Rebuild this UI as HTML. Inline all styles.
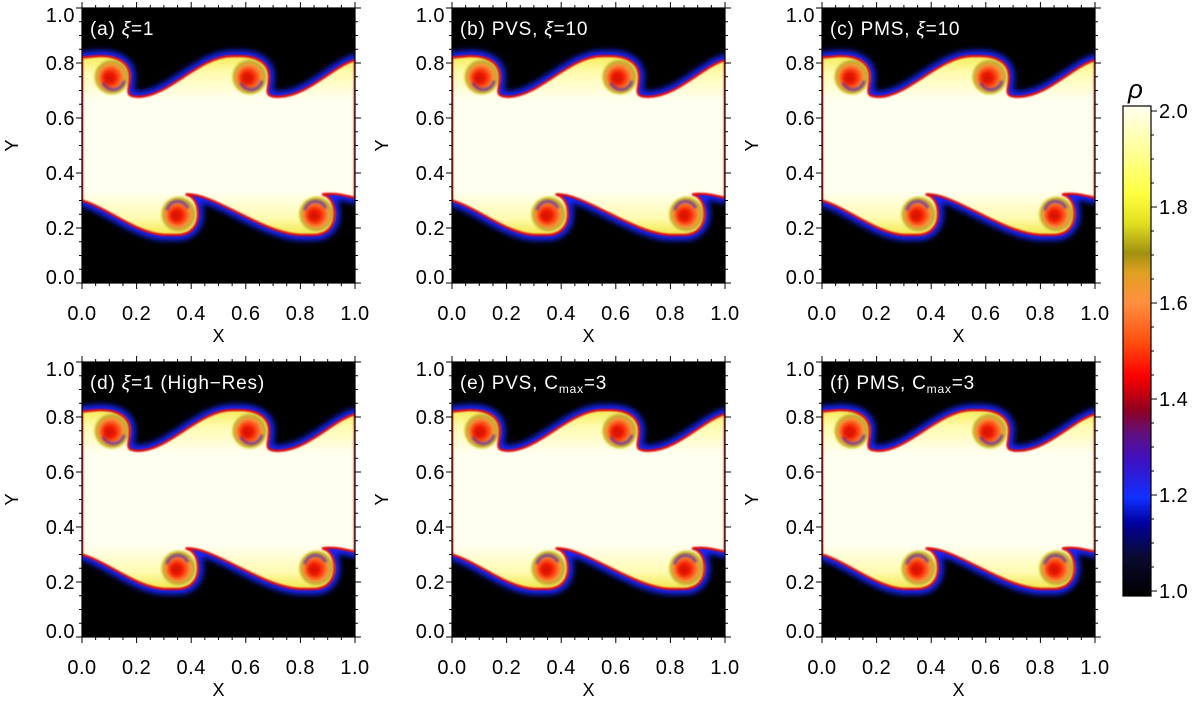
<!DOCTYPE html>
<html><head><meta charset="utf-8">
<style>
html,body{margin:0;padding:0;background:#fff;}
#root{position:relative;width:1200px;height:706px;overflow:hidden;font-family:"Liberation Sans",sans-serif;}
svg text{font-family:"Liberation Sans","DejaVu Sans",sans-serif;}
</style></head>
<body>
<div id="root">
<svg id="fig" width="1200" height="706" viewBox="0 0 1200 706">
<defs>
<filter id="glow" x="-20%" y="-20%" width="140%" height="140%"><feGaussianBlur stdDeviation="3"/></filter>
<filter id="soft" x="-20%" y="-20%" width="140%" height="140%"><feGaussianBlur stdDeviation="0.7"/></filter>
<filter id="vblur" x="-50%" y="-50%" width="200%" height="200%"><feGaussianBlur stdDeviation="1"/></filter>
<radialGradient id="vort" cx="0.5" cy="0.5" r="0.5" fx="0.4" fy="0.55">
<stop offset="0" stop-color="#c81000"/>
<stop offset="0.3" stop-color="#f01800"/>
<stop offset="0.55" stop-color="#ff6020"/>
<stop offset="0.72" stop-color="#f0a040"/>
<stop offset="0.86" stop-color="#b8a828"/>
<stop offset="1" stop-color="#f4ec60"/>
</radialGradient>
<linearGradient id="cbar" x1="0" y1="1" x2="0" y2="0">
<stop offset="0" stop-color="#000000"/>
<stop offset="0.08" stop-color="#0a0a30"/>
<stop offset="0.15" stop-color="#0000a0"/>
<stop offset="0.2" stop-color="#1030ff"/>
<stop offset="0.28" stop-color="#4010c0"/>
<stop offset="0.33" stop-color="#601080"/>
<stop offset="0.38" stop-color="#900020"/>
<stop offset="0.45" stop-color="#ff0000"/>
<stop offset="0.52" stop-color="#ff5010"/>
<stop offset="0.6" stop-color="#ff9040"/>
<stop offset="0.66" stop-color="#e0a020"/>
<stop offset="0.7" stop-color="#a09010"/>
<stop offset="0.76" stop-color="#e0e020"/>
<stop offset="0.82" stop-color="#ffff40"/>
<stop offset="0.9" stop-color="#ffff90"/>
<stop offset="1" stop-color="#fffff0"/>
</linearGradient>
</defs>
</svg>
</div>
<script>
const xTickValues=[0,0.2,0.4,0.6,0.8,1.0];
const xTickLabels=["0.0","0.2","0.4","0.6","0.8","1.0"];
const yTickValues=[0,0.2,0.4,0.6,0.8,1.0];
const yTickLabels=["0.0","0.2","0.4","0.6","0.8","1.0"];
const cbTickValues=[1.0,1.2,1.4,1.6,1.8,2.0];
const cbTickLabels=["1.0","1.2","1.4","1.6","1.8","2.0"];
const panelTitles=["(a) <tspan font-style='italic'>ξ</tspan>=1","(b) PVS, <tspan font-style='italic'>ξ</tspan>=10","(c) PMS, <tspan font-style='italic'>ξ</tspan>=10","(d) <tspan font-style='italic'>ξ</tspan>=1 (High−Res)","(e) PVS, C<tspan font-size='12' dy='4'>max</tspan><tspan dy='-4'>=3</tspan>","(f) PMS, C<tspan font-size='12' dy='4'>max</tspan><tspan dy='-4'>=3</tspan>"];
const vortexX=[0.11,0.615,0.355,0.86];
const vortexY=[0.75,0.75,0.25,0.25];

const NS="http://www.w3.org/2000/svg";
const fig=document.getElementById('fig');
const W=273,H=275;
const panelLeft=[82,452,822], panelTop=[8,362];
function mk(tag,attrs,parent){const e=document.createElementNS(NS,tag);for(const k in attrs)e.setAttribute(k,attrs[k]);parent.appendChild(e);return e;}
function sx(x){return x*W;} function sy(y){return (1-y)*H;}
function pt(a){return sx(a[0]).toFixed(1)+","+sy(a[1]).toFixed(1);}
const upper=[["M",[0,.82]],["L",[.06,.825]],["C",[.13,.828],[.175,.80],[.175,.75]],["C",[.175,.70],[.15,.677],[.21,.677]],["C",[.32,.68],[.43,.825],[.55,.825]],["L",[.57,.825]],["C",[.64,.828],[.685,.80],[.685,.75]],["C",[.685,.70],[.66,.677],[.72,.677]],["C",[.83,.68],[.92,.79],[1,.81]]];
const lower=[["L",[1,.31]],["C",[.97,.315],[.93,.33],[.88,.322]],["C",[.90,.318],[.925,.30],[.925,.25]],["C",[.925,.21],[.90,.175],[.85,.175]],["L",[.80,.175]],["C",[.66,.18],[.48,.33],[.38,.322]],["C",[.40,.318],[.425,.30],[.425,.25]],["C",[.425,.21],[.40,.175],[.35,.175]],["L",[.30,.175]],["C",[.20,.18],[.10,.27],[0,.30]],["Z"]];
function pathStr(segs){return segs.map(s=>s[0]+(s.length>1?" "+s.slice(1).map(pt).join(" "):"")).join(" ");}
const bandD=pathStr(upper.concat(lower));

for(let r=0;r<2;r++)for(let c=0;c<3;c++){
  const idx=r*3+c;
  const g=mk('g',{transform:`translate(${panelLeft[c]},${panelTop[r]})`},fig);
  
  
  const cid='clip'+idx;
  const cp=mk('clipPath',{id:cid},g);mk('rect',{x:0,y:0,width:W,height:H},cp);
  const img=mk('g',{'clip-path':`url(#${cid})`},g);
  
  
  mk('rect',{x:0,y:0,width:W,height:H,fill:'#000'},img);
  mk('path',{d:bandD,fill:'none',stroke:'#1828ff',"stroke-width":11,filter:'url(#glow)'},img);
  const gid='bg'+idx;
  const lg=mk('linearGradient',{id:gid,x1:0,y1:sy(.83),x2:0,y2:sy(.17),gradientUnits:'userSpaceOnUse'},img);
  [[0,'#f4ec50'],[0.1,'#fffbb0'],[0.25,'#fffff0'],[0.75,'#fffff0'],[0.9,'#fffbb0'],[1,'#f0e640']].forEach(s=>mk('stop',{offset:s[0],'stop-color':s[1]},lg));
  mk('path',{d:bandD,fill:`url(#${gid})`},img);
  for(let v=0;v<vortexX.length;v++){
    const ci=mk('circle',{cx:sx(vortexX[v]),cy:sy(vortexY[v]),r:18,fill:'url(#vort)',filter:'url(#vblur)'},img);
    
    
    const up=vortexY[v]>0.5;
    const arc=mk('path',{d:up?`M ${sx(vortexX[v])-9},${sy(vortexY[v])+6} A 11 11 0 0 0 ${sx(vortexX[v])+12},${sy(vortexY[v])+4}`:`M ${sx(vortexX[v])+9},${sy(vortexY[v])-6} A 11 11 0 0 0 ${sx(vortexX[v])-12},${sy(vortexY[v])-4}`,fill:'none',stroke:'#5020b0','stroke-width':3,opacity:0.7,filter:'url(#vblur)'},img);
    
    
  }
  mk('path',{d:bandD,fill:'none',stroke:'#e01010',"stroke-width":2.4,filter:'url(#soft)'},img);
  mk('rect',{x:0,y:0,width:W,height:H,fill:'none',stroke:'#000','stroke-width':1.2},g);
  for(let k=0;k<=20;k++){
    const v=k/20, major=k%4===0, L=major?6:3;
    mk('line',{x1:sx(v),y1:H,x2:sx(v),y2:H+L,stroke:'#000'},g);
    mk('line',{x1:sx(v),y1:0,x2:sx(v),y2:-L,stroke:'#000'},g);
    mk('line',{x1:0,y1:sy(v),x2:-L,y2:sy(v),stroke:'#000'},g);
    mk('line',{x1:W,y1:sy(v),x2:W+L,y2:sy(v),stroke:'#000'},g);
  }
  xTickValues.forEach((v,i)=>{const t=mk('text',{x:sx(v),y:H+37,'font-size':20,'letter-spacing':0.5,'text-anchor':'middle'},g);t.textContent=xTickLabels[i];
    
    });
  yTickValues.forEach((v,i)=>{let yy=sy(v)+7; if(v===0)yy-=6; if(v===1)yy+=7;
    const t=mk('text',{x:-7,y:yy,'font-size':20,'letter-spacing':0.5,'text-anchor':'end'},g);t.textContent=yTickLabels[i];
    
    });
  const xt=mk('text',{x:W/2,y:H+59,'font-size':18,'text-anchor':'middle'},g);xt.textContent='X';
  
  
  const yt=mk('text',{x:0,y:0,'font-size':18,'text-anchor':'middle',transform:`translate(-64,${H/2}) rotate(-90)`},g);yt.textContent='Y';
  
  
  const tt=mk('text',{x:8,y:27,'font-size':19,'letter-spacing':0.8,fill:'#fff'},g);tt.innerHTML=panelTitles[idx];
  
  
}
const cb=mk('g',{},fig);


function cy(v){return 591-(v-1)*480;}
mk('rect',{x:1123,y:106,width:28,height:490,fill:'url(#cbar)',stroke:'#000','stroke-width':1.2},cb);
for(let k=0;k<=20;k++){const v=1+k*0.05;const L=k%4===0?6:3;mk('line',{x1:1151,y1:cy(v),x2:1151+L,y2:cy(v),stroke:'#000'},cb);}
cbTickValues.forEach((v,i)=>{const t=mk('text',{x:1159,y:cy(v)+7,'font-size':20,'letter-spacing':0.5},cb);t.textContent=cbTickLabels[i];
  
  });
const rho=mk('text',{x:1128,y:98,'font-size':26,'font-style':'italic'},cb);rho.textContent='ρ';


</script>
</body></html>
